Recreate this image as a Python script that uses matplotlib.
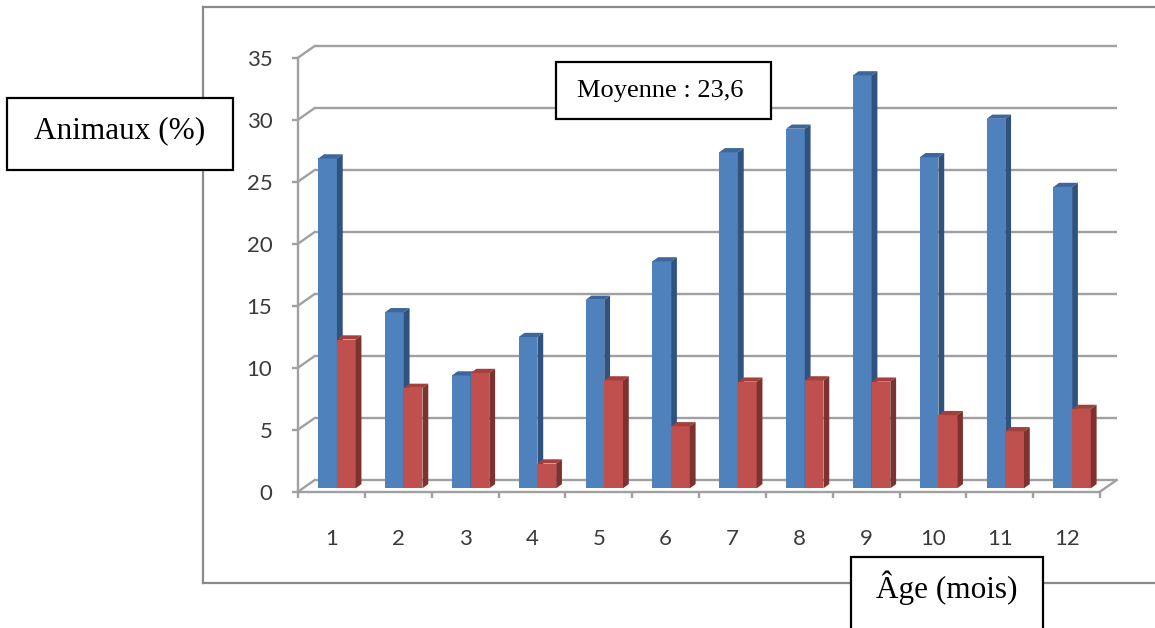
import numpy as np
import matplotlib
matplotlib.use("Agg")
import matplotlib.pyplot as plt
from matplotlib.patches import Polygon, Rectangle
from matplotlib.lines import Line2D

# data: % of animals per age class (months), two series
ages = [1, 2, 3, 4, 5, 6, 7, 8, 9, 10, 11, 12]
serie_bleue = [26.6, 14.2, 9.1, 12.2, 15.2, 18.3, 27.1, 29.0, 33.3, 26.7, 29.8, 24.3]
serie_rouge = [12.0, 8.1, 9.3, 2.0, 8.7, 5.0, 8.6, 8.7, 8.6, 5.9, 4.6, 6.4]
y_ticks = [0, 5, 10, 15, 20, 25, 30, 35]

W, H = 1155, 628
fig = plt.figure(figsize=(W / 100, H / 100), dpi=100)
fig.patch.set_facecolor("white")

# plot area (front plane of the pseudo 3D box)
ax_l, ax_r, ax_t, ax_b = 298, 1100, 57.7, 491.7
ax = fig.add_axes([ax_l / W, 1 - ax_b / H, (ax_r - ax_l) / W, (ax_b - ax_t) / H])
ax.set_xlim(0.5, 12.5)
ax.set_ylim(0, 35)
ax.patch.set_alpha(0)

px_x = (ax_r - ax_l) / 12.0   # pixels per category
px_y = (ax_b - ax_t) / 35.0   # pixels per unit

# wall depth, bar placement depth and bar thickness (pixels -> data units)
DX, DY = 16.7 / px_x, 11.7 / px_y
OX, OY = 0.29 * DX, 0.29 * DY
BX, BY = 5.8 / px_x, 4.2 / px_y

grid_col = "#A0A0A0"
lw_grid = 1.7

# back wall gridlines + side wall diagonals
for yv in y_ticks:
    ax.plot([0.5 + DX, 12.5 + DX], [yv + DY, yv + DY], color=grid_col, lw=lw_grid,
            clip_on=False, zorder=1, solid_capstyle="butt")
    ax.plot([0.5, 0.5 + DX], [yv, yv + DY], color=grid_col, lw=lw_grid,
            clip_on=False, zorder=1)
# floor right edge
ax.plot([12.5, 12.5 + DX], [0, DY], color=grid_col, lw=lw_grid, clip_on=False, zorder=1)

x = np.array(ages, dtype=float)
w = 0.28


def bars3d(x0, vals, c_front, c_top, c_side, z):
    ax.bar(x0 + OX, vals, width=w, bottom=OY, align="edge", color=c_front,
           edgecolor="none", zorder=z, clip_on=False)
    for xi, v in zip(x0, vals):
        xl, xr, top = xi + OX, xi + OX + w, v + OY
        ax.add_patch(Polygon([(xl, top), (xr, top), (xr + BX, top + BY), (xl + BX, top + BY)],
                             closed=True, facecolor=c_top, edgecolor="none",
                             zorder=z, clip_on=False))
        ax.add_patch(Polygon([(xr, OY), (xr, top), (xr + BX, top + BY), (xr + BX, OY + BY)],
                             closed=True, facecolor=c_side, edgecolor="none",
                             zorder=z, clip_on=False))


bars3d(x - 0.27, serie_bleue, "#4F81BD", "#3D679C", "#30527F", 3)
bars3d(x + 0.01, serie_rouge, "#C0504D", "#A3403D", "#7E3230", 4)

# axes lines and ticks
for s in ["top", "right"]:
    ax.spines[s].set_visible(False)
for s in ["left", "bottom"]:
    ax.spines[s].set_color(grid_col)
    ax.spines[s].set_linewidth(lw_grid)
    ax.spines[s].set_zorder(2)

ax.set_yticks(y_ticks)
ax.set_yticklabels([str(v) for v in y_ticks])
ax.tick_params(axis="y", direction="out", length=4.3, width=lw_grid, color=grid_col,
               pad=14.2, labelsize=16, labelcolor="#3A3A3A")

ax.set_xticks(ages)
ax.set_xticklabels([str(a) for a in ages])
ax.set_xticks(np.arange(0.5, 13, 1.0), minor=True)
ax.tick_params(axis="x", which="major", length=0, pad=26.5, labelsize=16,
               labelcolor="#3A3A3A")
ax.tick_params(axis="x", which="minor", direction="out", length=4.3, width=lw_grid,
               color=grid_col)
for lab in ax.get_xticklabels() + ax.get_yticklabels():
    lab.set_fontfamily("Lato")


def fx(p):
    return p / W


def fy(p):
    return 1 - p / H


# chart area frame (runs off the right edge)
frame_col = "#8A8A8A"
for xs, ys in [([203, 1160], [7, 7]), ([203, 203], [7, 583]), ([203, 1160], [583, 583])]:
    fig.add_artist(Line2D([fx(v) for v in xs], [fy(v) for v in ys], color=frame_col,
                          lw=1.6, zorder=0))


def boite(x0, y0, x1, y1, texte, tx, ty, size):
    fig.add_artist(Rectangle((fx(x0), fy(y1)), fx(x1) - fx(x0), fy(y0) - fy(y1),
                             transform=fig.transFigure, facecolor="white",
                             edgecolor="black", lw=1.6, zorder=10))
    fig.text(fx(tx), fy(ty), texte, ha="center", va="baseline", fontsize=size,
             family="Liberation Serif", color="black", zorder=11)


boite(7, 98, 233, 170, "Animaux (%)", 120, 138, 22.5)
boite(556, 62, 771, 119, "Moyenne : 23,6", 660, 97, 19)
boite(851, 557, 1043, 640, "Âge (mois)", 947, 598, 22.5)

fig.savefig("out.png", dpi=100)
